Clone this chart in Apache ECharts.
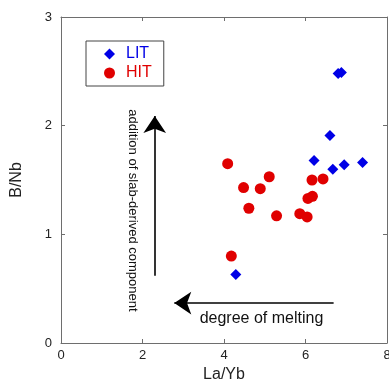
<!DOCTYPE html>
<html>
<head>
<meta charset="utf-8">
<script src="https://cdn.jsdelivr.net/npm/echarts@6/dist/echarts.min.js"></script>
<style>
  html, body { margin: 0; padding: 0; background: #fff; }
  #chart { width: 389px; height: 381px; }
</style>
</head>
<body>
<div id="chart"></div>
<script>
// data (La/Yb, B/Nb)
var litPoints = [
  [6.80, 2.48], [6.88, 2.49], [6.60, 1.91], [6.21, 1.68],
  [6.67, 1.60], [6.95, 1.64], [7.40, 1.66], [4.29, 0.63]
];
var hitPoints = [
  [4.09, 1.65], [5.11, 1.53], [4.48, 1.43], [4.89, 1.42],
  [6.16, 1.50], [6.43, 1.51], [6.06, 1.33], [6.17, 1.35],
  [4.61, 1.24], [5.29, 1.17], [5.86, 1.19], [6.04, 1.16],
  [4.18, 0.80]
];
var xTicks = [0, 2, 4, 6, 8];
var yTicks = [0, 1, 2, 3];

// annotation arrows (start -> tip, data units)
var slabArrow = [[2.30, 0.62], [2.30, 2.09]];
var meltArrow = [[6.69, 0.367], [2.78, 0.367]];
var slabLabel = { text: 'addition of slab-derived component', at: [1.75, 1.22] };
var meltLabel = { text: 'degree of melting', at: [4.92, 0.227] };

var font = "'Liberation Sans', Arial, Helvetica, sans-serif";
var axisGray = '#6e6e6e';
var blue = '#0000e6', red = '#e00000';

var chart = echarts.init(document.getElementById('chart'));

var frameAxis = {
  axisLine: { show: true, onZero: false, lineStyle: { color: axisGray, width: 1 } },
  axisTick: { show: true, inside: true, length: 4, lineStyle: { color: axisGray } },
  splitLine: { show: false }
};

chart.setOption({
  animation: false,
  textStyle: { fontFamily: font },
  grid: { left: 61, right: 2, top: 17, bottom: 38, outerBoundsMode: 'none' },
  legend: {
    left: 86, top: 41,
    orient: 'vertical',
    itemWidth: 11, itemHeight: 11,
    itemGap: 3,
    padding: [5, 12, 5, 18],
    borderColor: '#444', borderWidth: 1,
    textStyle: { fontSize: 16, fontFamily: font, padding: [0, 0, 0, 6] },
    data: [
      { name: 'LIT', icon: 'diamond', textStyle: { color: blue } },
      { name: 'HIT', icon: 'circle', textStyle: { color: red } }
    ]
  },
  xAxis: [
    Object.assign({
      type: 'value', position: 'bottom', min: xTicks[0], max: xTicks[xTicks.length - 1], interval: 2,
      name: 'La/Yb', nameLocation: 'middle', nameGap: 24,
      nameTextStyle: { fontSize: 16, color: '#222', fontFamily: font },
      axisLabel: { fontSize: 13, color: '#222', margin: 6, fontFamily: font }
    }, frameAxis),
    Object.assign({
      type: 'value', position: 'top', min: xTicks[0], max: xTicks[xTicks.length - 1], interval: 2,
      axisLabel: { show: false }
    }, frameAxis)
  ],
  yAxis: [
    Object.assign({
      type: 'value', position: 'left', min: yTicks[0], max: yTicks[yTicks.length - 1], interval: 1,
      name: 'B/Nb', nameLocation: 'middle', nameGap: 36,
      nameTextStyle: { fontSize: 16, color: '#222', fontFamily: font },
      axisLabel: { fontSize: 13, color: '#222', margin: 9, fontFamily: font }
    }, frameAxis),
    Object.assign({
      type: 'value', position: 'right', min: yTicks[0], max: yTicks[yTicks.length - 1], interval: 1,
      axisLabel: { show: false }
    }, frameAxis)
  ],
  series: [
    {
      name: 'LIT', type: 'scatter', symbol: 'diamond', symbolSize: 11,
      itemStyle: { color: blue, opacity: 1 },
      data: litPoints, z: 3
    },
    {
      name: 'HIT', type: 'scatter', symbol: 'circle', symbolSize: 11,
      itemStyle: { color: red, opacity: 1 },
      data: hitPoints, z: 2
    },
    {
      type: 'lines', coordinateSystem: 'cartesian2d',
      symbol: ['none', 'arrow'], symbolSize: [12, 17],
      lineStyle: { color: '#000', width: 1.6, opacity: 1 },
      silent: true,
      data: [{ coords: slabArrow }, { coords: meltArrow }]
    }
  ]
});

// text annotations placed from data coordinates
function placeLabels() {
  var p1 = chart.convertToPixel({ gridIndex: 0 }, slabLabel.at);
  var p2 = chart.convertToPixel({ gridIndex: 0 }, meltLabel.at);
  chart.setOption({
    graphic: [
      {
        type: 'text', x: p1[0], y: p1[1], rotation: -Math.PI / 2,
        style: { text: slabLabel.text, font: '13px ' + font, fill: '#111', align: 'center', verticalAlign: 'middle' }
      },
      {
        type: 'text', x: p2[0], y: p2[1],
        style: { text: meltLabel.text, font: '16px ' + font, fill: '#111', align: 'center', verticalAlign: 'middle' }
      }
    ]
  });
}
placeLabels();
</script>
</body>
</html>
